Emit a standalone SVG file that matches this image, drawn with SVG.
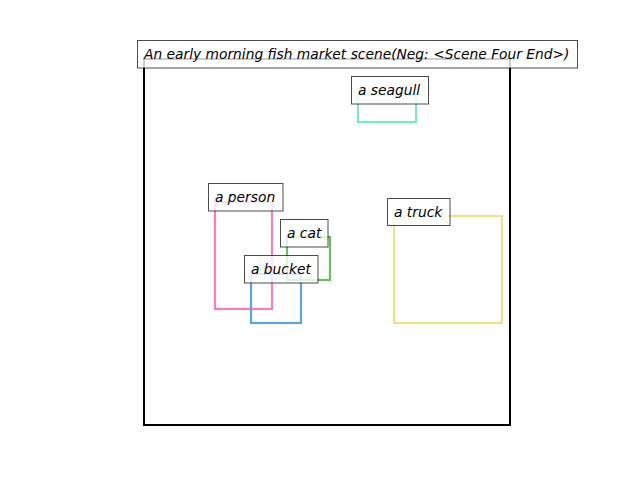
<svg xmlns="http://www.w3.org/2000/svg" width="640" height="480" viewBox="0 0 640 480">
<style>
.box{fill:none;stroke-width:2.2}
.lbl rect{fill:#fff;fill-opacity:0.8;stroke:#000;stroke-opacity:0.7;stroke-width:1}
.lbl text{font-family:"DejaVu Sans",sans-serif;font-style:italic;font-size:13.8px;fill:#000}
</style>
<rect width="640" height="480" fill="#fff"/>
<rect id="frame" x="144" y="59" width="366" height="366" fill="none" stroke="#000" stroke-width="2"/>
<g id="boxes">
<rect id="seagull-box" class="box" x="358" y="95" width="58" height="27" stroke="#7de8bf"/>
<rect id="person-box" class="box" x="215" y="202" width="57" height="107" stroke="#f47fbf"/>
<rect id="cat-box" class="box" x="287" y="237" width="43" height="43" stroke="#6cbd5e"/>
<rect id="bucket-box" class="box" x="251" y="274" width="50" height="49" stroke="#62a6d6"/>
<rect id="truck-box" class="box" x="394" y="216" width="108" height="107" stroke="#ece38f"/>
</g>
<g id="title" class="lbl"><rect x="137.5" y="40.5" width="440" height="27.5"/><text x="144" y="59">An early morning fish market scene(Neg: &lt;Scene Four End&gt;)</text></g>
<g id="seagull" class="lbl"><rect x="351.5" y="76.5" width="77" height="27.5"/><text x="358" y="95">a seagull</text></g>
<g id="person" class="lbl"><rect x="208.5" y="183.5" width="74.5" height="27.5"/><text x="215" y="202">a person</text></g>
<g id="cat" class="lbl"><rect x="280.5" y="219.5" width="47.5" height="27.5"/><text x="287" y="238">a cat</text></g>
<g id="bucket" class="lbl"><rect x="244.5" y="255.5" width="73.5" height="27.5"/><text x="251" y="274">a bucket</text></g>
<g id="truck" class="lbl"><rect x="387.5" y="198.5" width="62.5" height="27"/><text x="394" y="217">a truck</text></g>
</svg>
